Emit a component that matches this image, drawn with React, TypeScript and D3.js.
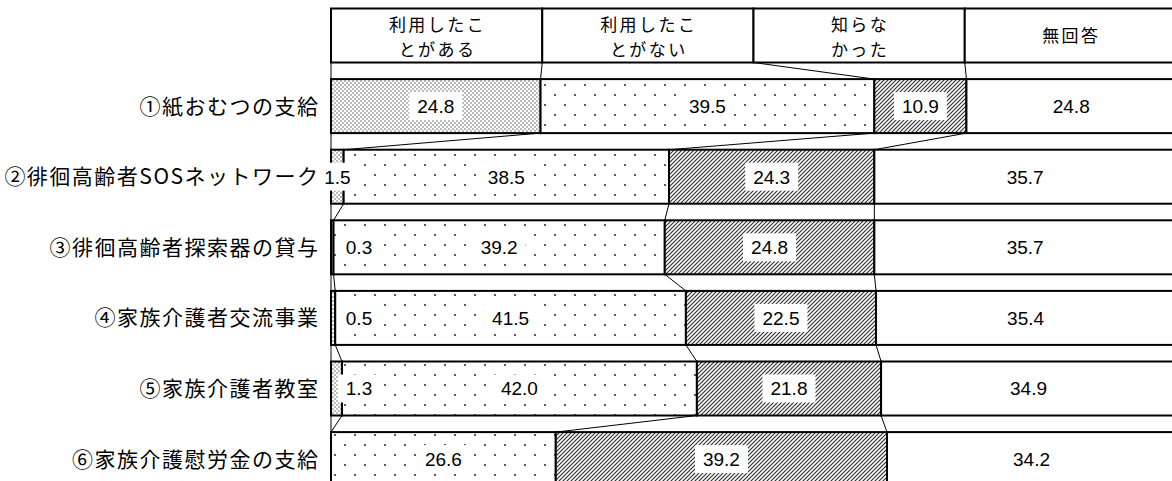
import React, { useEffect, useRef } from 'react';
import * as d3 from 'd3';

// categories (top to bottom)
const categories = [
  '①紙おむつの支給',
  '②徘徊高齢者SOSネットワーク',
  '③徘徊高齢者探索器の貸与',
  '④家族介護者交流事業',
  '⑤家族介護者教室',
  '⑥家族介護慰労金の支給',
];

// header row (legend boxes), one entry per series
const headerLines = [
  ['利用したこ', 'とがある'],
  ['利用したこ', 'とがない'],
  ['知らな', 'かった'],
  ['無回答'],
];
const headerShare = [25, 25, 25, 25];

// series values (%)
const used = [24.8, 1.5, 0.3, 0.5, 1.3, 0];
const notUsed = [39.5, 38.5, 39.2, 41.5, 42.0, 26.6];
const unknown = [10.9, 24.3, 24.8, 22.5, 21.8, 39.2];
const noAnswer = [24.8, 35.7, 35.7, 35.4, 34.9, 34.2];

const WIDTH = 1172;
const HEIGHT = 481;
const JP = '"Noto Sans CJK JP", "Noto Sans", sans-serif';
const NUM = '"Liberation Sans Narrow", "Liberation Sans", Arial, sans-serif';

const App: React.FC = () => {
  const svgRef = useRef<SVGSVGElement>(null);

  useEffect(() => {
    if (!svgRef.current) return;
    const svg = d3.select(svgRef.current);
    svg.selectAll('*').remove();

    const keys = ['s0', 's1', 's2', 's3'];
    const rowIds = ['header', ...categories];
    const table = rowIds.map((id, i) =>
      i === 0
        ? { id, s0: headerShare[0], s1: headerShare[1], s2: headerShare[2], s3: headerShare[3] }
        : { id, s0: used[i - 1], s1: notUsed[i - 1], s2: unknown[i - 1], s3: noAnswer[i - 1] }
    );
    const stacked = d3.stack<any>().keys(keys)(table);

    const xScale = d3.scaleLinear().domain([0, 100]).range([331, 1176]);
    const step = 70.6;
    const top = 8.5 - 0.1175 * step;
    const yScale = d3
      .scaleBand()
      .domain(rowIds)
      .range([top, top + rowIds.length * step])
      .paddingInner(0.235)
      .paddingOuter(0.1175);
    const bw = yScale.bandwidth();

    // patterns
    const defs = svg.append('defs');
    const dense = defs.append('pattern').attr('id', 'p-dense')
      .attr('patternUnits', 'userSpaceOnUse').attr('width', 4).attr('height', 4);
    dense.append('rect').attr('width', 4).attr('height', 4).attr('fill', '#fff');
    dense.append('circle').attr('cx', 1).attr('cy', 1).attr('r', 0.7).attr('fill', '#444');
    dense.append('circle').attr('cx', 3).attr('cy', 3).attr('r', 0.7).attr('fill', '#444');

    const sparse = defs.append('pattern').attr('id', 'p-sparse')
      .attr('patternUnits', 'userSpaceOnUse').attr('width', 20).attr('height', 20);
    sparse.append('rect').attr('width', 20).attr('height', 20).attr('fill', '#fff');
    sparse.append('circle').attr('cx', 5).attr('cy', 5).attr('r', 1.1).attr('fill', '#333');
    sparse.append('circle').attr('cx', 15).attr('cy', 15).attr('r', 1.1).attr('fill', '#333');

    const hatch = defs.append('pattern').attr('id', 'p-hatch')
      .attr('patternUnits', 'userSpaceOnUse').attr('width', 4).attr('height', 4);
    hatch.append('rect').attr('width', 4).attr('height', 4).attr('fill', '#fff');
    hatch.append('path')
      .attr('d', 'M0,4 L4,0 M-1,1 L1,-1 M3,5 L5,3')
      .attr('stroke', '#333').attr('stroke-width', 1.2);

    const fills = ['url(#p-dense)', 'url(#p-sparse)', 'url(#p-hatch)', '#fff'];

    // category axis line
    svg.append('line')
      .attr('x1', xScale(0)).attr('x2', xScale(0))
      .attr('y1', yScale('header')!).attr('y2', HEIGHT)
      .attr('stroke', '#000').attr('stroke-width', 1);

    // series lines between consecutive rows
    const seriesLines = svg.append('g');
    for (let k = 0; k < 3; k++) {
      for (let i = 0; i < rowIds.length - 1; i++) {
        const a = stacked[k][i];
        const b = stacked[k][i + 1];
        seriesLines.append('line')
          .attr('x1', xScale(a[1])).attr('y1', yScale(rowIds[i])! + bw)
          .attr('x2', xScale(b[1])).attr('y2', yScale(rowIds[i + 1])!)
          .attr('stroke', '#000').attr('stroke-width', 1);
      }
    }

    // bars
    stacked.forEach((series, k) => {
      svg.append('g')
        .selectAll('rect')
        .data(series)
        .enter()
        .append('rect')
        .attr('x', d => xScale(d[0]))
        .attr('y', d => yScale(d.data.id)!)
        .attr('width', d => xScale(d[1]) - xScale(d[0]))
        .attr('height', bw)
        .attr('fill', (d, i) => (i === 0 ? '#fff' : fills[k]))
        .attr('stroke', '#000')
        .attr('stroke-width', 2);
    });

    // header texts
    const hy = yScale('header')! + bw / 2;
    headerLines.forEach((lines, k) => {
      const d = stacked[k][0];
      const cx = (xScale(d[0]) + xScale(d[1])) / 2 + 1;
      lines.forEach((line, j) => {
        const cy = lines.length === 1 ? hy : hy + (j === 0 ? -11 : 14);
        svg.append('text')
          .attr('x', cx).attr('y', cy).attr('dy', '0.36em')
          .attr('text-anchor', 'middle')
          .style('font-family', JP).style('font-size', '17px')
          .style('letter-spacing', '2.5px').style('fill', '#000')
          .text(line);
      });
    });

    // category labels
    categories.forEach(c => {
      svg.append('text')
        .attr('x', 319.5).attr('y', yScale(c)! + bw / 2).attr('dy', '0.36em')
        .attr('text-anchor', 'end')
        .style('font-family', JP).style('font-size', '21px')
        .style('letter-spacing', '1.5px').style('fill', '#000')
        .text(c);
    });

    // value labels with white boxes
    const labels = svg.append('g');
    stacked.forEach(series => {
      series.forEach((d, i) => {
        if (i === 0) return;
        const v = d[1] - d[0];
        if (v <= 0.001) return;
        const x0 = xScale(d[0]);
        const x1 = xScale(d[1]);
        const cx = v < 1.5 ? x0 + 28 : (x0 + x1) / 2;
        const cy = yScale(d.data.id)! + bw / 2;
        const g = labels.append('g');
        const box = g.append('rect').attr('fill', '#fff');
        const t = g.append('text')
          .attr('x', cx).attr('y', cy).attr('dy', '0.36em')
          .attr('text-anchor', 'middle')
          .style('font-family', NUM).style('font-size', '19px').style('fill', '#000')
          .text(v.toFixed(1));
        const w = (t.node() as SVGTextElement).getComputedTextLength();
        box.attr('x', cx - w / 2 - 8).attr('y', cy - 14).attr('width', w + 16).attr('height', 28);
      });
    });
  }, []);

  return (
    <svg
      ref={svgRef}
      width={WIDTH}
      height={HEIGHT}
      style={{ position: 'absolute', left: 0, top: 0, display: 'block', background: '#fff' }}
    />
  );
};

export default App;
